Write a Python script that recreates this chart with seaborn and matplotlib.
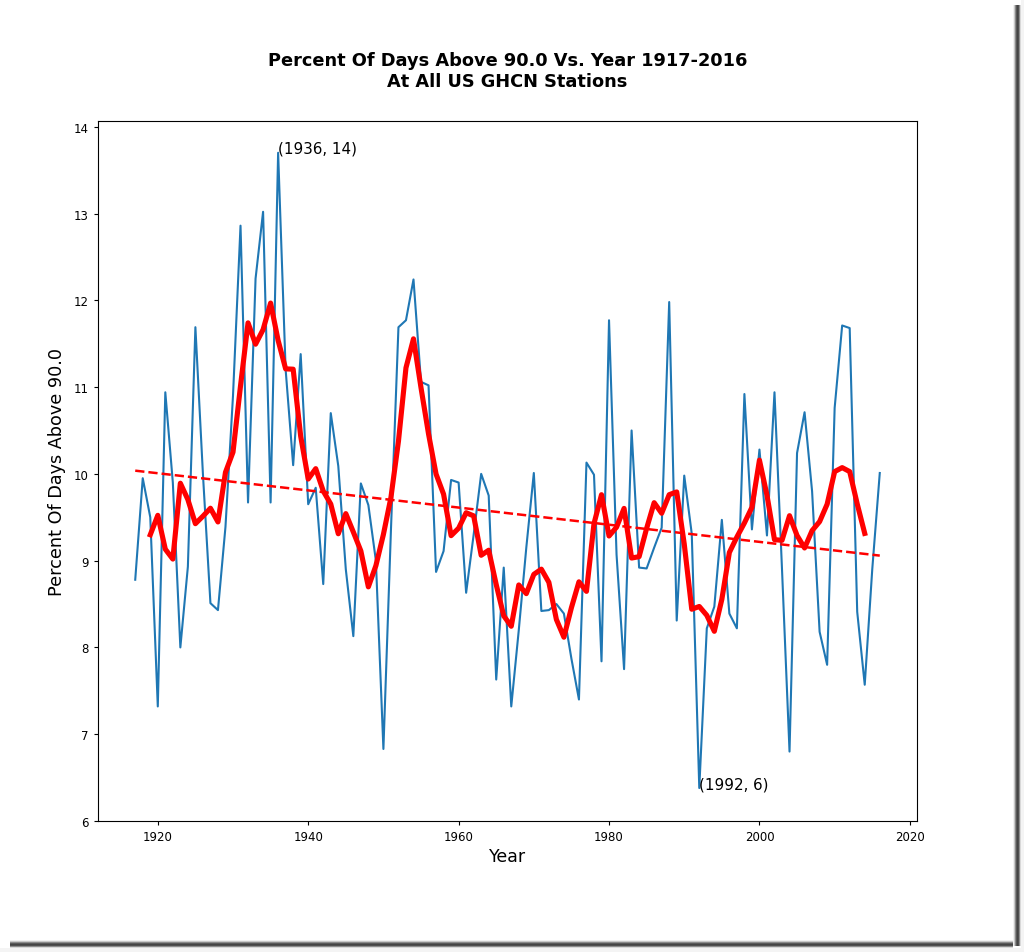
import numpy as np
import pandas as pd
import matplotlib
matplotlib.use("Agg")
import matplotlib.pyplot as plt
import seaborn as sns
from matplotlib.patches import Rectangle

# ---- data ----
years = list(range(1917, 2017))
pct_days = [
    8.78, 9.95, 9.50, 7.32, 10.94, 9.90, 8.00, 8.93, 11.69, 10.00,   # 1917-1926
    8.51, 8.43, 9.39, 10.90, 12.86, 9.67, 12.25, 13.02, 9.67, 13.70,  # 1927-1936
    11.20, 10.10, 11.38, 9.65, 9.84, 8.73, 10.70, 10.09, 8.90, 8.13,  # 1937-1946
    9.89, 9.64, 9.00, 6.83, 9.35, 11.69, 11.77, 12.24, 11.06, 11.02,  # 1947-1956
    8.87, 9.11, 9.93, 9.90, 8.63, 9.30, 10.00, 9.75, 7.63, 8.92,      # 1957-1966
    7.32, 8.20, 9.15, 10.01, 8.42, 8.43, 8.50, 8.39, 7.87, 7.40,      # 1967-1976
    10.13, 9.99, 7.84, 11.77, 9.07, 7.75, 10.50, 8.92, 8.91, 9.15,    # 1977-1986
    9.38, 11.98, 8.31, 9.98, 9.31, 6.38, 8.22, 8.47, 9.47, 8.39,      # 1987-1996
    8.22, 10.92, 9.36, 10.28, 9.29, 10.94, 8.90, 6.80, 10.24, 10.71,  # 1997-2006
    9.80, 8.18, 7.80, 10.76, 11.71, 11.68, 8.41, 7.57, 8.90, 10.01,   # 2007-2016
]
smooth_window = 5
title_text = "Percent Of Days Above 90.0 Vs. Year 1917-2016\nAt All US GHCN Stations"
x_label = "Year"
y_label = "Percent Of Days Above 90.0"

df = pd.DataFrame({"Year": years, "Pct": pct_days})
df["Smooth"] = df["Pct"].rolling(smooth_window, center=True).mean()
coef = np.polyfit(df["Year"], df["Pct"], 1)
df["Trend"] = np.polyval(coef, df["Year"])

W, H = 1024, 953
fig = plt.figure(figsize=(W / 100, H / 100), dpi=100)
fig.patch.set_facecolor("white")

# page drop shadow (right and bottom)
shadow_cols = ["#f0f0f0", "#c8c8c8", "#8a8a8a", "#5a5a5a", "#444444", "#505050", "#8c8c8c", "#d8d8d8"]
for i, c in enumerate(shadow_cols):
    fig.patches.append(Rectangle(((1013 + i) / W, 1 - 947 / H), 1 / W, (947 - 6) / H,
                                 transform=fig.transFigure, color=c, zorder=0, lw=0))
    fig.patches.append(Rectangle((10 / W, 1 - (941 + i + 1) / H), (1013 - 10) / W, 1 / H,
                                 transform=fig.transFigure, color=c, zorder=0, lw=0))
fig.patches.append(Rectangle((1021 / W, 0), 3 / W, 1, transform=fig.transFigure,
                             color="#f4f4f4", zorder=0, lw=0))
fig.patches.append(Rectangle((0, 0), 1, (953 - 949) / H, transform=fig.transFigure,
                             color="#f4f4f4", zorder=0, lw=0))

left, right, top, bottom = 98, 917, 122, 822
ax = fig.add_axes([left / W, 1 - bottom / H, (right - left) / W, (bottom - top) / H])

sns.lineplot(data=df, x="Year", y="Pct", ax=ax, color="#1f77b4", linewidth=1.5)
sns.lineplot(data=df, x="Year", y="Trend", ax=ax, color="red", linewidth=1.8, linestyle="--")
sns.lineplot(data=df.dropna(), x="Year", y="Smooth", ax=ax, color="red", linewidth=3.7)

imax = int(np.argmax(pct_days))
imin = int(np.argmin(pct_days))
for i in (imax, imin):
    ax.annotate(f"({years[i]}, {round(pct_days[i])})", xy=(years[i], pct_days[i]),
                fontsize=10.9)

ax.set_title(title_text, fontsize=12.75, fontweight="bold", pad=25)
ax.set_xlabel(x_label, fontsize=12.5, labelpad=3)
ax.set_ylabel(y_label, fontsize=12.7, labelpad=6)
ax.tick_params(labelsize=8.5, length=3)
ax.set_yticks(range(6, 15))
ax.set_xticks(range(1920, 2021, 20))
for s in ax.spines.values():
    s.set_linewidth(0.8)

fig.savefig("out.png", dpi=100)
